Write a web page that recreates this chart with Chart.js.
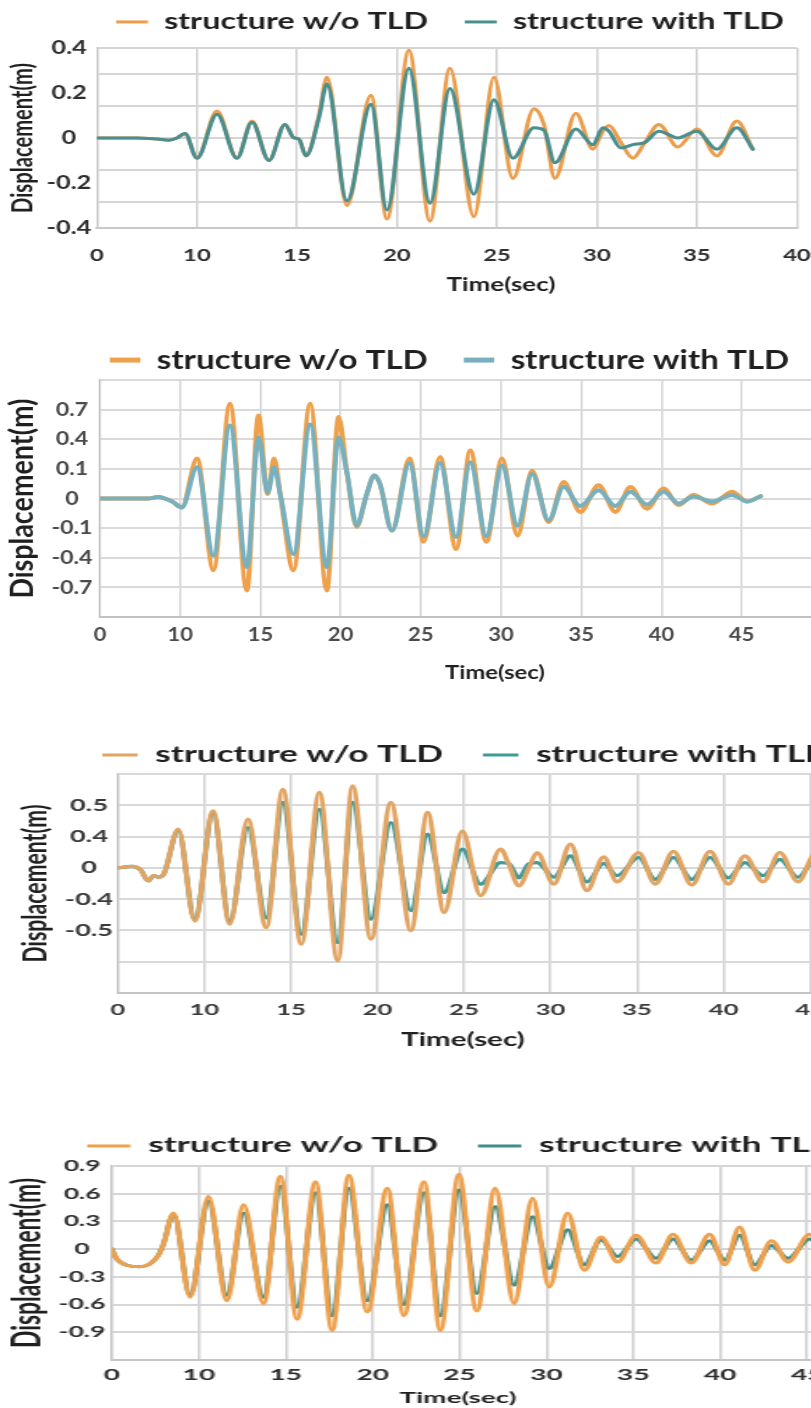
<!DOCTYPE html>
<html>
<head>
<meta charset="utf-8">
<script src="https://cdn.jsdelivr.net/npm/chart.js"></script>
<style>
html, body { margin:0; padding:0; background:#ffffff; width:811px; height:1408px; overflow:hidden; }
body { position:relative; }
.panel { position:absolute; }
</style>
</head>
<body>
<script>
// ================= DATA =================
const seriesNames = ['structure w/o TLD', 'structure with TLD'];
const xTitleText = 'Time(sec)';
const yTitleText = 'Displacement(m)';

// ---- Panel 1 ----
const p1Time = [5, 7, 8, 8.6, 9, 9.4, 10, 11, 12, 12.75, 13.6, 14.4, 14.85, 15.1, 15.45, 16.1, 16.5, 17.5, 18.7, 19.5, 20.6, 21.65, 22.65, 23.85, 24.85, 25.8, 26.85, 27.35, 27.9, 28.95, 29.8, 30.3, 30.6, 31.2, 31.8, 32.4, 33.1, 34.05, 35, 36, 37, 37.8];
const p1WithoutTLD = [0, 0, -0.005, -0.01, 0, 0.02, -0.09, 0.12, -0.09, 0.075, -0.10, 0.06, 0.0, -0.005, -0.08, 0.10, 0.27, -0.30, 0.19, -0.36, 0.39, -0.37, 0.31, -0.35, 0.27, -0.18, 0.13, 0.06, -0.18, 0.11, -0.05, 0.03, 0.055, -0.02, -0.09, -0.02, 0.06, -0.04, 0.04, -0.08, 0.075, -0.05];
const p1WithTLD = [0, 0, -0.005, -0.01, 0, 0.02, -0.09, 0.105, -0.09, 0.07, -0.10, 0.06, 0.0, -0.005, -0.08, 0.09, 0.24, -0.28, 0.15, -0.32, 0.31, -0.29, 0.22, -0.25, 0.17, -0.09, 0.045, 0.035, -0.11, 0.04, -0.03, 0.045, 0.03, -0.045, -0.03, -0.02, 0.03, 0.0, 0.03, -0.05, 0.045, -0.05];
const p1XTickValues = [5, 10, 15, 20, 25, 30, 35, 40];
const p1XTickLabels = ['0', '10', '15', '20', '25', '30', '35', '40'];
const p1XGridValues = [10, 15, 20, 25, 30, 35, 40];
const p1YTickValues = [-0.4, -0.2, 0, 0.2, 0.4];
const p1YTickLabels = ['-0.4', '-0.2', '0', '0.2', '0.4'];
const p1YGridValues = [-0.285, -0.143, 0, 0.143, 0.285, 0.4];

// ---- Panel 2 (vertical axis in grid steps; labels as printed) ----
const p2Time = [5, 8, 8.6, 9.5, 10.1, 11.05, 12.07, 13.1, 14.15, 14.88, 15.45, 15.85, 16.25, 17.06, 18.1, 19.14, 19.87, 20.4, 21.0, 21.6, 22.1, 22.45, 23.2, 24.3, 25.17, 26.2, 27.2, 28.08, 29.08, 30.06, 31.03, 31.93, 32.97, 33.9, 34.94, 36.08, 37.13, 38.06, 39.1, 40.14, 41.07, 42.0, 43.15, 44.4, 45.34, 46.17];
const p2WithoutTLD = [0, 0, 0.05, -0.1, -0.3, 1.35, -2.42, 3.2, -3.1, 2.8, 0.15, 1.35, 0.1, -2.42, 3.2, -3.1, 2.75, 0.85, -0.95, 0.1, 0.78, 0.5, -1.08, 1.35, -1.46, 1.4, -1.7, 1.62, -1.46, 1.35, -1.25, 0.94, -0.79, 0.56, -0.45, 0.45, -0.45, 0.39, -0.34, 0.34, -0.22, 0.12, -0.17, 0.23, -0.1, 0.08];
const p2WithTLD = [0, 0, 0.05, -0.1, -0.3, 1.06, -1.92, 2.47, -2.31, 2.06, 0.2, 1.06, 0.1, -1.88, 2.5, -2.31, 2.06, 0.85, -0.9, 0.1, 0.78, 0.5, -1.08, 1.2, -1.29, 1.2, -1.3, 1.23, -1.27, 1.12, -0.91, 0.83, -0.73, 0.4, -0.25, 0.28, -0.25, 0.23, -0.2, 0.23, -0.17, 0.07, -0.1, 0.12, -0.1, 0.08];
const p2XTickValues = [5, 10, 15, 20, 25, 30, 35, 40, 45];
const p2XTickLabels = ['0', '10', '15', '20', '25', '30', '35', '40', '45'];
const p2XGridValues = [10, 15, 20, 25, 30, 35, 40, 45, 50];
const p2YTickValues = [-3, -2, -1, 0, 1, 2, 3];
const p2YTickLabels = ['-0.7', '-0.4', '-0.1', '0', '0.1', '0.4', '0.7'];
const p2YGridValues = [-3, -2, -1, 0, 1, 2, 3, 4];

// ---- Panel 3 (vertical axis in grid steps; labels as printed) ----
const p3Time = [5, 5.8, 6.3, 6.75, 7.05, 7.35, 7.65, 8.48, 9.44, 10.49, 11.46, 12.51, 13.57, 14.53, 15.59, 16.64, 17.7, 18.56, 19.62, 20.77, 21.93, 22.89, 23.85, 24.9, 25.96, 27.11, 27.6, 28.17, 28.75, 29.22, 30.19, 31.15, 32.1, 33.07, 33.84, 35.09, 36.05, 37.1, 38.16, 39.22, 40.27, 41.23, 42.29, 43.25, 44.3, 45.3, 46.3];
const p3WithoutTLD = [0, 0.05, -0.06, -0.42, -0.25, -0.3, -0.2, 1.24, -1.7, 1.82, -1.8, 1.56, -1.91, 2.51, -2.44, 2.41, -2.97, 2.62, -2.28, 2.09, -2.01, 1.77, -1.43, 1.18, -0.89, 0.6, 0.1, -0.58, 0.0, 0.49, -0.52, 0.76, -0.73, 0.35, -0.45, 0.49, -0.52, 0.53, -0.55, 0.53, -0.52, 0.38, -0.45, 0.49, -0.45, 0.45, -0.45];
const p3WithTLD = [0, 0.05, -0.06, -0.42, -0.25, -0.3, -0.2, 1.2, -1.65, 1.75, -1.7, 1.29, -1.6, 2.09, -2.12, 1.87, -2.39, 2.09, -1.64, 1.45, -1.37, 1.08, -0.79, 0.6, -0.52, 0.17, 0.13, -0.32, 0.13, 0.17, -0.3, 0.38, -0.45, 0.14, -0.25, 0.33, -0.37, 0.33, -0.37, 0.33, -0.32, 0.17, -0.25, 0.27, -0.3, 0.27, -0.3];
const p3XTickValues = [5, 10, 15, 20, 25, 30, 35, 40, 45];
const p3XTickLabels = ['0', '10', '15', '20', '25', '30', '35', '40', '45'];
const p3XGridValues = [10, 15, 20, 25, 30, 35, 40, 45, 50];
const p3YTickValues = [-2, -1, 0, 1, 2];
const p3YTickLabels = ['-0.5', '-0.4', '0', '0.4', '0.5'];
const p3YGridValues = [-3, -2, -1, 0, 1, 2, 3];

// ---- Panel 4 ----
const p4Time = [5, 5.25, 5.85, 6.6, 7.17, 7.66, 7.95, 8.54, 9.5, 10.55, 11.61, 12.57, 13.72, 14.69, 15.65, 16.71, 17.67, 18.63, 19.69, 20.84, 21.8, 22.95, 23.9, 24.96, 25.99, 27.05, 28.14, 29.2, 30.16, 31.22, 32.18, 33.14, 34.1, 35.16, 36.31, 37.28, 38.33, 39.39, 40.26, 41.12, 41.98, 42.95, 43.9, 45.15, 46.1];
const p4WithoutTLD = [0, -0.1, -0.175, -0.19, -0.16, -0.07, 0.05, 0.39, -0.52, 0.57, -0.56, 0.48, -0.59, 0.79, -0.76, 0.73, -0.88, 0.8, -0.68, 0.66, -0.72, 0.73, -0.88, 0.81, -0.67, 0.66, -0.59, 0.55, -0.41, 0.39, -0.23, 0.13, -0.14, 0.15, -0.15, 0.16, -0.15, 0.16, -0.17, 0.24, -0.23, 0.09, -0.14, 0.16, -0.15];
const p4WithTLD = [0, -0.1, -0.175, -0.19, -0.16, -0.07, 0.05, 0.38, -0.5, 0.52, -0.5, 0.39, -0.52, 0.68, -0.63, 0.61, -0.72, 0.66, -0.56, 0.48, -0.6, 0.61, -0.72, 0.64, -0.48, 0.46, -0.39, 0.35, -0.21, 0.21, -0.17, 0.1, -0.08, 0.11, -0.1, 0.11, -0.12, 0.09, -0.12, 0.15, -0.17, 0.04, -0.1, 0.11, -0.1];
const p4XTickValues = [5, 10, 15, 20, 25, 30, 35, 40, 45];
const p4XTickLabels = ['0', '10', '15', '20', '25', '30', '35', '40', '45'];
const p4XGridValues = [10, 15, 20, 25, 30, 35, 40, 45, 50];
const p4YTickValues = [-0.9, -0.6, -0.3, 0, 0.3, 0.6, 0.9];
const p4YTickLabels = ['-0.9', '-0.6', '-0.3', '0', '0.3', '0.6', '0.9'];
const p4YGridValues = [-0.9, -0.6, -0.3, 0, 0.3, 0.6, 0.9];

// ================= LAYOUT / STYLE =================
const FONT = 'Lato, "Open Sans", sans-serif';
const layouts = [
  { stretch: 1.40, area: {left: 97, right: 797, top: 48, bottom: 228}, xMin: 5, xMax: 40, yMin: -0.4, yMax: 0.4,
    legend: {boxX: 116, textX: 164, textW: 264, gap: 37, y: 22, boxH: 3},
    yTitle: {x: 23, len: 150}, yTick: {cx: 69, size: 18}, xTick: {y: 256, size: 17}, xTitle: {x: 501, y: 285, w: 109},
    orange: '#EC9D4C', teal: '#4A8F8F', lw: 3, tealOnTop: true, tickColor: '#2e2e2e',
    hGrid: '#d5d5d5', vGrid: '#cfcfcf', axis: '#c9c9c9' },
  { stretch: 1.22, area: {left: 100, right: 822, top: 380, bottom: 617}, xMin: 5, xMax: 50, yMin: -4, yMax: 4,
    legend: {boxX: 110, textX: 157, textW: 271, gap: 36, y: 360, boxH: 5},
    yTitle: {x: 22, len: 200}, yTick: {cx: 72, size: 19}, xTick: {y: 635, size: 18}, xTitle: {x: 495, y: 673, w: 100},
    orange: '#EFA04A', teal: '#78B1BD', lw: 4, tealOnTop: true, tickColor: '#4a4a4a',
    hGrid: '#dadada', vGrid: '#d2d2d2', axis: '#c2c2c2' },
  { stretch: 1.60, area: {left: 118, right: 897, top: 774, bottom: 993}, xMin: 5, xMax: 50, yMin: -4, yMax: 3,
    legend: {boxX: 102, textX: 155, textW: 288, gap: 40, y: 755, boxH: 3},
    yTitle: {x: 35, len: 158}, yTick: {cx: 89, size: 17}, xTick: {y: 1010, size: 16}, xTitle: {x: 463, y: 1040, w: 124},
    orange: '#E2A462', teal: '#3F9A9A', lw: 3.2, tealOnTop: false, tickColor: '#3a3a3a',
    hGrid: '#d9d9d9', vGrid: '#d2d2d2', axis: '#c4c4c4' },
  { stretch: 1.75, area: {left: 112, right: 894, top: 1166, bottom: 1360}, xMin: 5, xMax: 50, yMin: -1.2, yMax: 0.9,
    legend: {boxX: 87, textX: 148, textW: 290, gap: 40, y: 1146, boxH: 3},
    yTitle: {x: 28, len: 170}, yTick: {cx: 82, size: 15}, xTick: {y: 1375, size: 16}, xTitle: {x: 458, y: 1398, w: 117},
    orange: '#EFA04C', teal: '#3D8D8B', lw: 3, tealOnTop: false, tickColor: '#2e2e2e',
    hGrid: '#d6d6d6', vGrid: '#cfcfcf', axis: '#c4c4c4' }
];
const panelData = [
  {time: p1Time, without: p1WithoutTLD, withT: p1WithTLD, xTickValues: p1XTickValues, xTickLabels: p1XTickLabels, xGridValues: p1XGridValues, yTickValues: p1YTickValues, yTickLabels: p1YTickLabels, yGridValues: p1YGridValues},
  {time: p2Time, without: p2WithoutTLD, withT: p2WithTLD, xTickValues: p2XTickValues, xTickLabels: p2XTickLabels, xGridValues: p2XGridValues, yTickValues: p2YTickValues, yTickLabels: p2YTickLabels, yGridValues: p2YGridValues},
  {time: p3Time, without: p3WithoutTLD, withT: p3WithTLD, xTickValues: p3XTickValues, xTickLabels: p3XTickLabels, xGridValues: p3XGridValues, yTickValues: p3YTickValues, yTickLabels: p3YTickLabels, yGridValues: p3YGridValues},
  {time: p4Time, without: p4WithoutTLD, withT: p4WithTLD, xTickValues: p4XTickValues, xTickLabels: p4XTickLabels, xGridValues: p4XGridValues, yTickValues: p4YTickValues, yTickLabels: p4YTickLabels, yGridValues: p4YGridValues}
];

// ================= HELPERS =================
const meas = document.createElement('canvas').getContext('2d');
function textW(text, size) { meas.font = `bold ${size}px ${FONT}`; return meas.measureText(text).width; }
function fitSize(text, target) { return target / textW(text, 100) * 100; }
const near = (arr, v) => arr.findIndex(u => Math.abs(u - v) < 1e-6);
const clear = 'rgba(0,0,0,0)';

function legendHeightPlugin(h) {
  return { id: 'legendHeightFix', beforeLayout(chart) {
    const lg = chart.legend;
    if (lg && !lg._fixH) { const f = lg.fit; lg.fit = function () { f.call(this); this.height = h; }; lg._fixH = true; }
  } };
}
function xTitlePlugin(o) {
  return { id: 'xTitleAt', afterDraw(chart) {
    const ctx = chart.ctx; ctx.save();
    ctx.font = `bold ${o.size}px ${FONT}`; ctx.fillStyle = o.color;
    ctx.textAlign = 'center'; ctx.textBaseline = 'middle';
    ctx.fillText(o.text, o.x, chart.chartArea.bottom + o.dy);
    ctx.restore();
  } };
}

function buildPanel(P, D) {
  const s = P.stretch;
  const legFs = fitSize(seriesNames[0], P.legend.textW / s);
  const t1 = textW(seriesNames[0], legFs), t2 = textW(seriesNames[1], legFs);
  const boxW = Math.max(18 / s, (P.legend.textX - P.legend.boxX) / s - legFs / 2);
  const lp = P.legend.gap / s;
  const total = 2 * (boxW + legFs / 2) + t1 + t2 + lp;
  const C = P.legend.boxX + total * s / 2;
  let Wp = Math.round(2 * C / s);
  if (Wp < P.area.right / s) Wp = Math.ceil(P.area.right / s);
  const yW = P.area.left / s;
  const rW = Wp - P.area.right / s;
  const canvasTop = P.legend.y - lp - legFs / 2;
  const legH = P.area.top - canvasTop;
  const areaH = P.area.bottom - P.area.top;
  const Hp = Math.ceil(legH + areaH + (P.xTitle.y - P.area.bottom) + 25);
  const xH = Hp - legH - areaH;

  const yTitleSize = fitSize(yTitleText, P.yTitle.len);
  const yTitlePad = Math.max(0, P.yTitle.x / s - yTitleSize * 0.6);
  const widest = Math.max(...D.yTickLabels.map(l => textW(l, P.yTick.size)));
  const yPad = Math.max(0, yW - P.yTick.cx / s - widest / 2);
  const xPad = Math.max(0, (P.xTick.y - P.area.bottom) - P.xTick.size * 0.6);
  const xTitleSize = fitSize(xTitleText, P.xTitle.w / s);

  const yVals = [...new Set([...D.yTickValues, ...D.yGridValues])].sort((a, b) => a - b);
  const xVals = [...new Set([...D.xTickValues, ...D.xGridValues])].sort((a, b) => a - b);

  const wrap = document.createElement('div');
  wrap.className = 'panel';
  wrap.style.left = '0px';
  wrap.style.top = canvasTop + 'px';
  const cv = document.createElement('canvas');
  cv.setAttribute('width', Wp);
  cv.setAttribute('height', Hp);
  cv.style.width = (Wp * s) + 'px';
  cv.style.height = Hp + 'px';
  wrap.appendChild(cv);
  document.body.appendChild(wrap);

  const common = { borderWidth: P.lw, pointRadius: 0, pointHoverRadius: 0, cubicInterpolationMode: 'monotone',
                   borderJoinStyle: 'round', borderCapStyle: 'round', fill: false };
  new Chart(cv, {
    type: 'line',
    data: { datasets: [
      Object.assign({ label: seriesNames[0], data: D.time.map((t, i) => ({x: t, y: D.without[i]})),
        borderColor: P.orange, backgroundColor: P.orange, order: P.tealOnTop ? 1 : 0 }, common),
      Object.assign({ label: seriesNames[1], data: D.time.map((t, i) => ({x: t, y: D.withT[i]})),
        borderColor: P.teal, backgroundColor: P.teal, order: P.tealOnTop ? 0 : 1 }, common)
    ] },
    options: {
      responsive: false, maintainAspectRatio: false, animation: false, devicePixelRatio: 1, events: [],
      layout: { padding: 0, autoPadding: false },
      plugins: {
        tooltip: { enabled: false },
        title: { display: false },
        legend: { display: true, position: 'top', align: 'center',
          labels: { boxWidth: boxW, boxHeight: P.legend.boxH, padding: lp, color: '#1f1f1f',
            font: { family: FONT, size: legFs, weight: 'bold' },
            sort: (a, b) => a.datasetIndex - b.datasetIndex,
            generateLabels: (chart) => Chart.defaults.plugins.legend.labels.generateLabels(chart)
              .map(l => Object.assign(l, { lineWidth: 0, fillStyle: l.strokeStyle })) } }
      },
      scales: {
        x: { type: 'linear', position: 'bottom', min: P.xMin, max: P.xMax,
          afterBuildTicks: ax => { ax.ticks = xVals.map(v => ({value: v})); },
          afterFit: sc => { sc.height = xH; sc.paddingLeft = 0; sc.paddingRight = 0; },
          ticks: { autoSkip: false, maxRotation: 0, minRotation: 0, padding: xPad, color: P.tickColor,
            font: { family: FONT, size: P.xTick.size, weight: 'bold' },
            callback: v => { const i = near(D.xTickValues, v); return i >= 0 ? D.xTickLabels[i] : ''; } },
          grid: { drawTicks: false, lineWidth: 1.5,
            color: c => (c.tick && near(D.xGridValues, c.tick.value) >= 0) ? P.vGrid : clear },
          border: { display: true, color: P.axis, width: 2 }
        },
        y: { type: 'linear', position: 'left', min: P.yMin, max: P.yMax,
          afterBuildTicks: ax => { ax.ticks = yVals.map(v => ({value: v})); },
          afterFit: sc => { sc.width = yW; sc.paddingTop = 0; sc.paddingBottom = 0; },
          ticks: { autoSkip: false, padding: yPad, crossAlign: 'center', color: P.tickColor,
            font: { family: FONT, size: P.yTick.size, weight: 'bold' },
            callback: v => { const i = near(D.yTickValues, v); return i >= 0 ? D.yTickLabels[i] : ''; } },
          grid: { drawTicks: false, lineWidth: 2,
            color: c => (c.tick && near(D.yGridValues, c.tick.value) >= 0) ? P.hGrid : clear },
          border: { display: true, color: P.axis, width: 1.5 },
          title: { display: true, text: yTitleText, color: '#1f1f1f',
            font: { family: FONT, size: yTitleSize, weight: 'bold' }, padding: { top: yTitlePad, bottom: 0 } }
        },
        yR: { type: 'linear', position: 'right', display: true,
          afterFit: sc => { sc.width = Math.max(0, rW); },
          ticks: { display: false }, grid: { display: false }, border: { display: false } }
      }
    },
    plugins: [legendHeightPlugin(legH),
      xTitlePlugin({ text: xTitleText, size: xTitleSize, color: '#1f1f1f', x: P.xTitle.x / s, dy: P.xTitle.y - P.area.bottom })]
  });
}

layouts.forEach((P, i) => buildPanel(P, panelData[i]));
</script>
</body>
</html>
